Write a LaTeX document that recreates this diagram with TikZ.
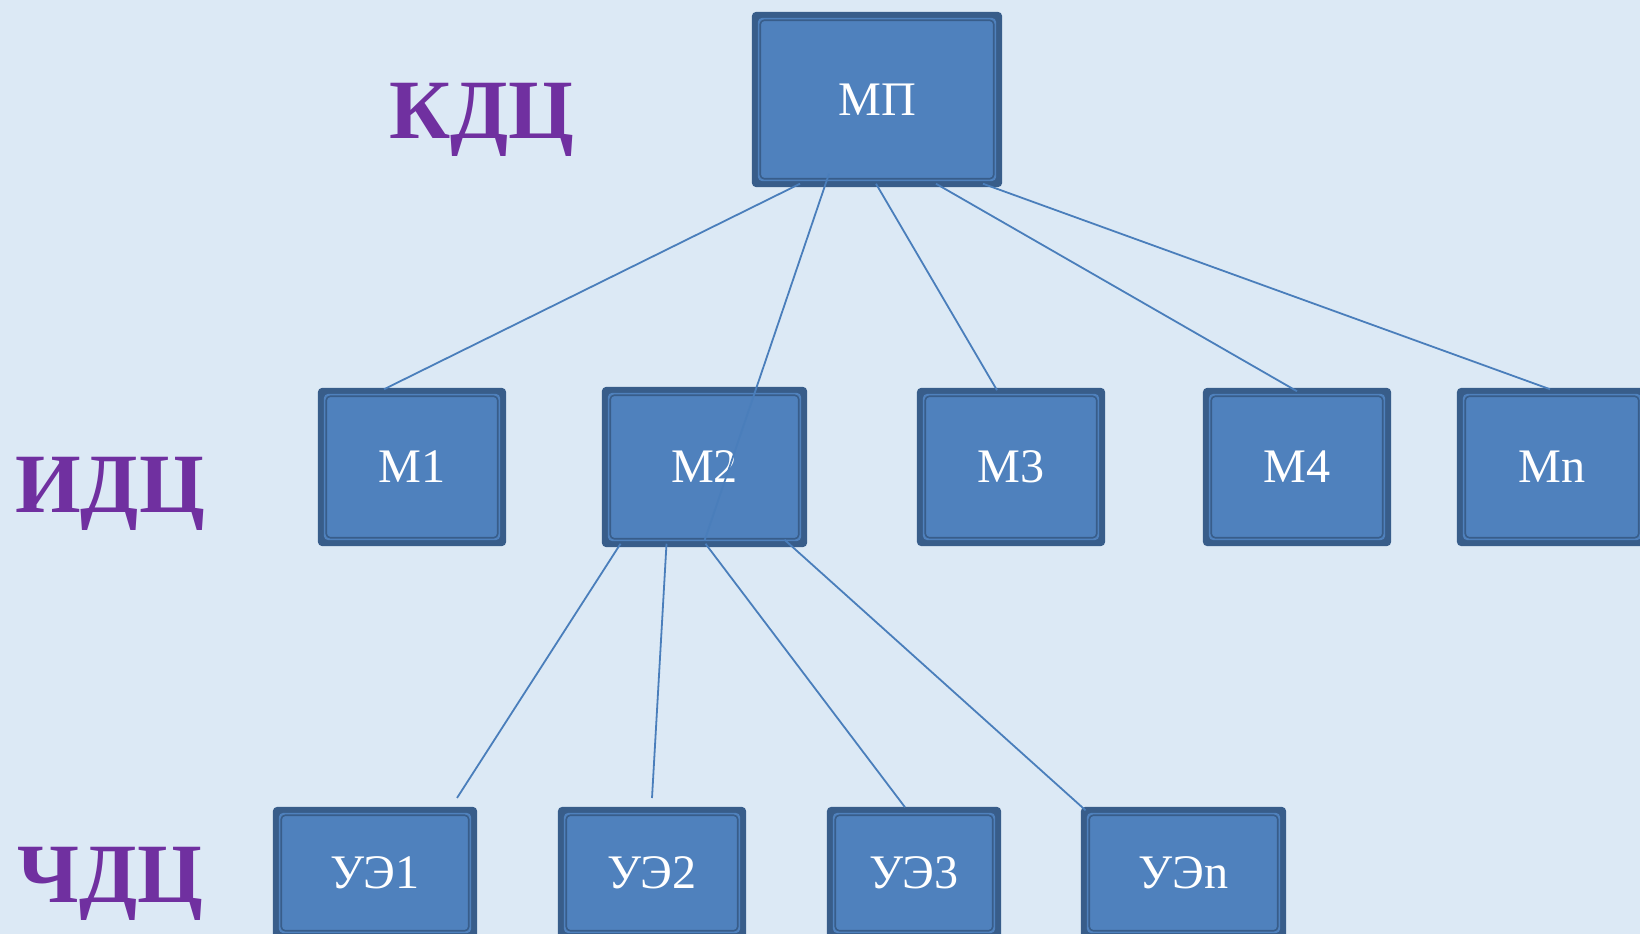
\documentclass[tikz,border=0pt]{standalone}
\usepackage{fontspec}
\setmainfont{Liberation Serif}
\definecolor{bgc}{HTML}{DCE9F5}
\definecolor{boxdark}{HTML}{385D8A}
\definecolor{boxfill}{HTML}{4F81BD}
\definecolor{linec}{HTML}{4A7EBB}
\definecolor{lvl}{HTML}{7030A0}
\tikzset{
  unit/.style={rectangle, fill=boxdark, rounded corners=0.4mm, inner sep=0pt,
    text=white, font=\fontsize{13.7}{16}\selectfont,
    path picture={
      \fill[boxfill] ([shift={(0.6mm,-0.6mm)}]path picture bounding box.north west) rectangle ([shift={(-0.6mm,0.6mm)}]path picture bounding box.south east);
      \draw[boxdark, line width=0.16mm] ([shift={(0.83mm,-0.83mm)}]path picture bounding box.north west) rectangle ([shift={(-0.83mm,0.83mm)}]path picture bounding box.south east);
    }},
  level/.style={text=lvl, font=\fontsize{24}{28}\selectfont\bfseries, anchor=base, inner sep=0pt},
  link/.style={draw=linec, line width=0.18mm}
}
\begin{document}
\begin{tikzpicture}[x=0.01cm, y=-0.01cm]
\fill[bgc] (0,0) rectangle (1640,934);
\useasboundingbox (0,0) rectangle (1640,934);
\begin{scope}
\clip (0,0) rectangle (1640,934);
% level labels
\node[level] (kdc) at (482,139) {КДЦ};
\node[level] (idc) at (110,512) {ИДЦ};
\node[level] (chdc) at (110,902) {ЧДЦ};
% boxes
\node[unit, minimum width=2.5cm, minimum height=1.75cm] (MP) at (877,99.5) {МП};
\node[unit, minimum width=1.88cm, minimum height=1.58cm] (M1) at (412,467) {M1};
\node[unit, minimum width=2.05cm, minimum height=1.6cm] (M2) at (704.5,467) {M2};
\node[unit, minimum width=1.88cm, minimum height=1.58cm] (M3) at (1011,467) {M3};
\node[unit, minimum width=1.88cm, minimum height=1.58cm] (M4) at (1297,467) {M4};
\node[unit, minimum width=1.9cm, minimum height=1.58cm] (Mn) at (1552,467) {Mn};
\node[unit, minimum width=2.04cm, minimum height=1.32cm] (UE1) at (375,873) {УЭ1};
\node[unit, minimum width=1.88cm, minimum height=1.32cm] (UE2) at (652,873) {УЭ2};
\node[unit, minimum width=1.74cm, minimum height=1.32cm] (UE3) at (914,873) {УЭ3};
\node[unit, minimum width=2.05cm, minimum height=1.32cm] (UEn) at (1183.5,873) {УЭn};
% connectors
\coordinate (e1) at (457,798);
\coordinate (e2) at (652,798);
\draw[link] ([shift={(-77,-4)}]MP.south) -- ([shift={(-28,2)}]M1.north);
\draw[link] ([shift={(-48,-14)}]MP.south) -- ([shift={(0,-7)}]M2.south);
\draw[link] ([shift={(-1,-4)}]MP.south) -- ([shift={(-14,3)}]M3.north);
\draw[link] ([shift={(59,-4)}]MP.south) -- ([shift={(0,4)}]M4.north);
\draw[link] ([shift={(106,-4)}]MP.south) -- ([shift={(-2,2)}]Mn.north);
\draw[link] ([shift={(-84,-4)}]M2.south) -- (e1);
\draw[link] ([shift={(-38,-4)}]M2.south) -- (e2);
\draw[link] ([shift={(1,-4)}]M2.south) -- ([shift={(-9,1)}]UE3.north);
\draw[link] ([shift={(80,-8)}]M2.south) -- ([shift={(-98,4)}]UEn.north);
\end{scope}
\end{tikzpicture}
\end{document}
